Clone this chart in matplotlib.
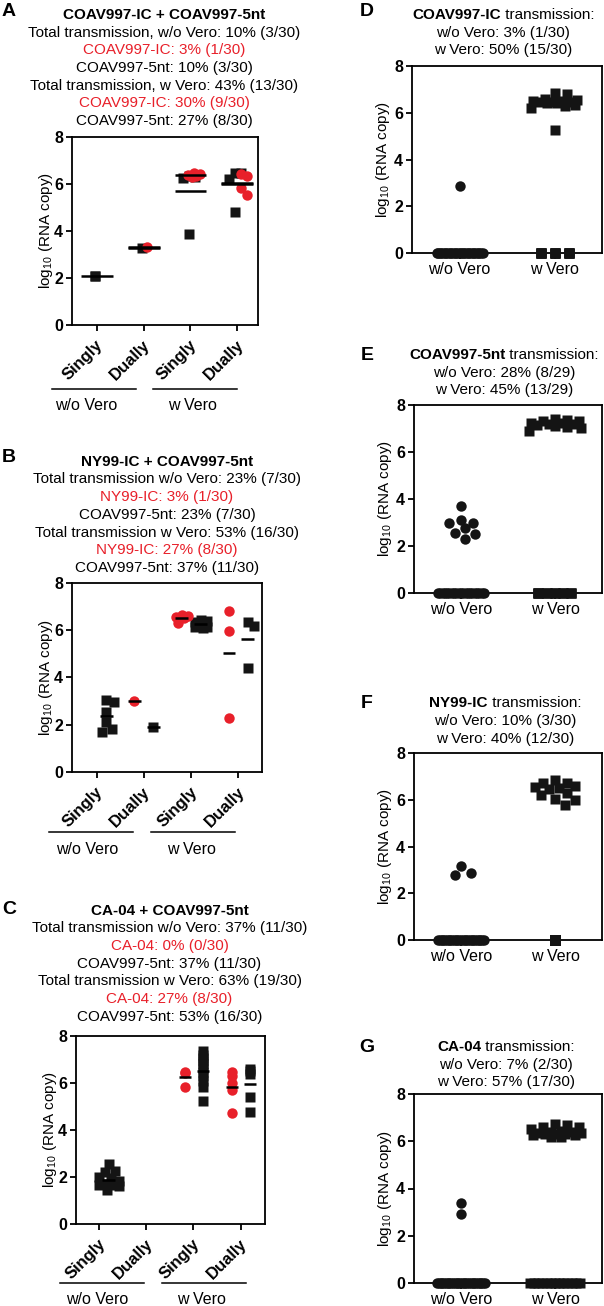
import numpy as np
import matplotlib
matplotlib.use("Agg")
import matplotlib.pyplot as plt
from matplotlib.lines import Line2D
from matplotlib.transforms import ScaledTranslation

plt.rcParams["font.family"] = ["Liberation Sans", "DejaVu Sans"]
plt.rcParams["mathtext.fontset"] = "custom"
plt.rcParams["mathtext.rm"] = "Liberation Sans"

# ---------------- data ----------------
LEFT_TICKS = ["Singly", "Dually", "Singly", "Dually"]
RIGHT_TICKS = ["w/o Vero", "w Vero"]
GROUPS = ["w/o Vero", "w Vero"]

# panel A: COAV997-IC (red) + COAV997-5nt (black)
A_RED = [[], [3.33], [6.45, 6.42, 6.38, 6.33, 6.3], [6.42, 6.35, 5.82, 5.55]]
A_BLACK = [[2.08, 2.08], [3.27], [6.35, 6.3, 6.25, 3.88], [6.47, 6.45, 6.2, 4.82]]
A_RED_MEAN = [None, 3.3, 6.38, 6.03]
A_BLACK_MEAN = [2.08, 3.27, 5.7, 5.98]

# panel B: NY99-IC (red) + COAV997-5nt (black)
B_RED = [[], [3.0], [6.65, 6.62, 6.58, 6.5, 6.3], [6.8, 5.95, 2.27]]
B_BLACK = [[3.05, 2.98, 2.55, 2.12, 1.8, 1.7], [1.92],
           [6.45, 6.4, 6.35, 6.3, 6.2, 6.15, 6.12, 6.1], [6.33, 6.16, 4.39]]
B_RED_MEAN = [None, 3.0, 6.53, 5.03]
B_BLACK_MEAN = [2.37, 1.92, 6.26, 5.63]

# panel C: CA-04 (red) + COAV997-5nt (black)
C_RED = [[], [], [6.48, 6.42, 5.82], [6.48, 6.3, 6.0, 5.72, 4.71]]
C_BLACK = [[2.55, 2.25, 2.2, 2.0, 1.95, 1.85, 1.7, 1.65, 1.65, 1.6, 1.45], [],
           [7.35, 7.2, 7.05, 6.95, 6.8, 6.65, 6.45, 6.3, 6.1, 5.85, 5.25],
           [6.6, 6.5, 6.4, 5.42, 4.78]]
C_RED_MEAN = [None, None, 6.24, 5.84]
C_BLACK_MEAN = [1.87, None, 6.52, 5.94]

A_TITLE = ["COAV997-IC + COAV997-5nt",
           "Total transmission, w/o Vero: 10% (3/30)",
           "COAV997-IC: 3% (1/30)",
           "COAV997-5nt: 10% (3/30)",
           "Total transmission, w Vero: 43% (13/30)",
           "COAV997-IC: 30% (9/30)",
           "COAV997-5nt: 27% (8/30)"]
B_TITLE = ["NY99-IC + COAV997-5nt",
           "Total transmission w/o Vero: 23% (7/30)",
           "NY99-IC: 3% (1/30)",
           "COAV997-5nt: 23% (7/30)",
           "Total transmission w Vero: 53% (16/30)",
           "NY99-IC: 27% (8/30)",
           "COAV997-5nt: 37% (11/30)"]
C_TITLE = ["CA-04 + COAV997-5nt",
           "Total transmission w/o Vero: 37% (11/30)",
           "CA-04: 0% (0/30)",
           "COAV997-5nt: 37% (11/30)",
           "Total transmission w Vero: 63% (19/30)",
           "CA-04: 27% (8/30)",
           "COAV997-5nt: 53% (16/30)"]

# single-virus panels: positive values, and number of zero (negative) mosquitoes
D_WO, D_WO_ZERO = [2.85], 29
D_W = [6.85, 6.8, 6.6, 6.55, 6.5, 6.5, 6.45, 6.45, 6.45, 6.4, 6.4, 6.35, 6.3, 6.2, 5.25]
D_W_ZERO = 15
E_WO, E_WO_ZERO = [3.72, 3.1, 3.0, 3.0, 2.78, 2.55, 2.52, 2.28], 21
E_W = [7.4, 7.35, 7.3, 7.3, 7.25, 7.25, 7.2, 7.2, 7.15, 7.1, 7.05, 7.0, 6.9]
E_W_ZERO = 16
F_WO, F_WO_ZERO = [3.17, 2.87, 2.78], 27
F_W = [6.83, 6.72, 6.72, 6.6, 6.55, 6.5, 6.45, 6.3, 6.2, 6.05, 6.0, 5.77]
F_W_ZERO = 18
G_WO, G_WO_ZERO = [3.4, 2.9], 28
G_W = [6.75, 6.7, 6.6, 6.6, 6.5, 6.45, 6.4, 6.4, 6.35, 6.35, 6.3, 6.3, 6.3, 6.25, 6.25, 6.2, 6.2]
G_W_ZERO = 13

D_TITLE = ["COAV997-IC", " transmission:", "w/o Vero: 3% (1/30)", "w Vero: 50% (15/30)"]
E_TITLE = ["COAV997-5nt", " transmission:", "w/o Vero: 28% (8/29)", "w Vero: 45% (13/29)"]
F_TITLE = ["NY99-IC", " transmission:", "w/o Vero: 10% (3/30)", "w Vero: 40% (12/30)"]
G_TITLE = ["CA-04", " transmission:", "w/o Vero: 7% (2/30)", "w Vero: 57% (17/30)"]

# ---------------- figure helpers ----------------
W, H = 604, 1306
RED = "#e8202a"
BLACK = "#141414"
FS = 11
LINE_STEP = 17.7

fig = plt.figure(figsize=(W / 100, H / 100), dpi=100)


def fx(x):
    return x / W


def fy(y):
    return 1 - y / H


def make_axes(rect, xlim, label_gap):
    l, t, r, b = rect
    ax = fig.add_axes([l / W, 1 - b / H, (r - l) / W, (b - t) / H])
    ax.set_xlim(*xlim)
    ax.set_ylim(0, 8)
    ax.set_yticks([0, 2, 4, 6, 8])
    for sp in ax.spines.values():
        sp.set_linewidth(1.3)
    ax.tick_params(direction="out", length=4.5, width=1.3, labelsize=11.5, pad=2)
    for lab in ax.get_yticklabels():
        lab.set_fontweight("bold")
    ax.set_ylabel(r"$\mathregular{log_{10}}$ (RNA copy)", fontsize=11)
    ax.yaxis.set_label_coords(-label_gap / (r - l), 0.5)
    return ax


def swarm(vals, d, wmax, ypx=23.5):
    # simple beeswarm: offsets in pixels, kept within +-wmax
    cands = [0.0]
    for s in np.arange(2.0, wmax + 0.01, 2.0):
        cands += [s, -s]
    placed, offs = [], []
    for v in vals:
        y = v * ypx
        best, best_d = 0.0, -1.0
        for c in cands:
            dist = min([np.hypot(c - px, y - py) for px, py in placed] + [1e9])
            if dist >= 0.9 * d:
                best = c
                break
            if dist > best_d:
                best, best_d = c, dist
        placed.append((best, y))
        offs.append(best)
    return np.array(offs)


def px_per_unit(ax):
    x0, x1 = ax.get_xlim()
    return ax.get_position().width * W / (x1 - x0)


def draw_left(ax, red, black, red_mean, black_mean, offs, line_offs, hw, jit):
    xpx = px_per_unit(ax)
    for i in range(4):
        pos = i + 1
        if black[i]:
            dx = swarm(black[i], 10, jit[i]) / xpx
            ax.plot(pos + offs[1] + dx, black[i], "s", ms=7, color=BLACK, mec="none",
                    clip_on=False, zorder=3)
        if red[i]:
            dx = swarm(red[i], 10, jit[i]) / xpx
            ax.plot(pos + offs[0] + dx, red[i], "o", ms=7.5, color=RED, mec="none",
                    clip_on=False, zorder=4)
        for m, lo in ((red_mean[i], line_offs[0]), (black_mean[i], line_offs[1])):
            if m is not None:
                ax.hlines(m, pos + lo - hw, pos + lo + hw, color="k", lw=1.8, zorder=5)
    ax.set_xticks([1, 2, 3, 4])
    ax.set_xticklabels(LEFT_TICKS, rotation=45, ha="right", va="center",
                       rotation_mode="anchor", fontweight="bold", fontsize=12)
    ax.tick_params(axis="x", pad=8)
    shift = ScaledTranslation(4 / 100, 0, fig.dpi_scale_trans)
    for lab in ax.get_xticklabels():
        lab.set_transform(lab.get_transform() + shift)


def draw_right(ax, wo, wo_zero, w, w_zero, zero_lay, jit):
    xpx = px_per_unit(ax)
    for pos, vals, nz, marker, ms, (zw, slots), jw in (
            (0, wo, wo_zero, "o", 7.5, zero_lay[0], jit[0]),
            (1, w, w_zero, "s", 7, zero_lay[1], jit[1])):
        slot_x = np.linspace(-zw / 2, zw / 2, slots) / xpx
        zx = pos + slot_x[np.arange(nz) % slots]
        ax.plot(zx, np.zeros(nz), marker, ms=ms, color=BLACK, mec="none",
                clip_on=False, zorder=3)
        dx = swarm(vals, 12, jw) / xpx
        ax.plot(pos + dx, vals, marker, ms=ms, color=BLACK, mec="none",
                clip_on=False, zorder=3)
    ax.set_xticks([0, 1])
    ax.set_xticklabels(RIGHT_TICKS, fontsize=11.5)


def left_title(lines, cx, y0):
    for k, s in enumerate(lines):
        col = RED if k in (2, 5) else "k"
        fig.text(fx(cx), fy(y0 + k * LINE_STEP), s, ha="center", va="center",
                 fontsize=FS, color=col, fontweight="bold" if k == 0 else "normal")


def right_title(lines, cx, y0):
    r = fig.canvas.get_renderer()
    t1 = fig.text(0, fy(y0), lines[0], ha="left", va="center", fontsize=FS, fontweight="bold")
    t2 = fig.text(0, fy(y0), lines[1], ha="left", va="center", fontsize=FS)
    w1 = t1.get_window_extent(r).width
    w2 = t2.get_window_extent(r).width
    x0 = cx - (w1 + w2) / 2
    t1.set_x(fx(x0))
    t2.set_x(fx(x0 + w1))
    for k, s in enumerate(lines[2:]):
        fig.text(fx(cx), fy(y0 + (k + 1) * LINE_STEP), s, ha="center", va="center", fontsize=FS)


def groups(line_y, segs, label_x):
    for x0, x1 in segs:
        fig.add_artist(Line2D([fx(x0), fx(x1)], [fy(line_y), fy(line_y)],
                              transform=fig.transFigure, color="k", lw=1.1))
    for x, s in zip(label_x, GROUPS):
        fig.text(fx(x), fy(line_y + 17), s, ha="center", va="center", fontsize=11.5)


def letter(x, y, s):
    fig.text(fx(x), fy(y), s, ha="center", va="center", fontsize=14, fontweight="bold")


# ---------------- left column ----------------
ax_a = make_axes((72, 137, 258, 325), (0.473, 4.44), 17)
draw_left(ax_a, A_RED, A_BLACK, A_RED_MEAN, A_BLACK_MEAN, (0.08, -0.04), (0, 0), 0.34,
          [0, 0, 6, 6])
left_title(A_TITLE, 164, 15)
groups(388.5, [(51.7, 135.5), (152.7, 237.3)], [86, 192.5])
letter(9, 11, "A")

ax_b = make_axes((72, 583, 262, 772), (0.477, 4.5), 17)
draw_left(ax_b, B_RED, B_BLACK, B_RED_MEAN, B_BLACK_MEAN, (-0.2, 0.2), (-0.2, 0.2), 0.135,
          [8, 0, 7, 6])
left_title(B_TITLE, 167, 461.7)
groups(832, [(49, 133), (151, 235)], [87, 191])
letter(9, 458, "B")

ax_c = make_axes((76, 1036, 265, 1224), (0.505, 4.52), 17)
draw_left(ax_c, C_RED, C_BLACK, C_RED_MEAN, C_BLACK_MEAN, (-0.18, 0.2), (-0.18, 0.2), 0.135,
          [10, 0, 0, 0])
left_title(C_TITLE, 169.5, 910.7)
groups(1283, [(60, 144), (162, 246)], [96.7, 201.7])
letter(9, 910, "C")

# ---------------- right column ----------------
ax_d = make_axes((412, 66, 602, 253), (-0.5, 1.5), 20)
draw_right(ax_d, D_WO, D_WO_ZERO, D_W, D_W_ZERO, ((46, 29), (28, 3)), (15, 25))
right_title(D_TITLE, 503, 15)
letter(367, 12, "D")

ax_e = make_axes((414, 405, 602, 593), (-0.5, 1.5), 20)
draw_right(ax_e, E_WO, E_WO_ZERO, E_W, E_W_ZERO, ((46, 21), (33, 5)), (15, 26))
right_title(E_TITLE, 504, 355)
letter(367, 355, "E")

ax_f = make_axes((414, 753, 602, 940), (-0.5, 1.5), 20)
draw_right(ax_f, F_WO, F_WO_ZERO, F_W, F_W_ZERO, ((46, 27), (0, 1)), (15, 21))
right_title(F_TITLE, 505, 703.3)
letter(367, 703, "F")

ax_g = make_axes((414, 1094, 602, 1283), (-0.5, 1.5), 20)
draw_right(ax_g, G_WO, G_WO_ZERO, G_W, G_W_ZERO, ((48, 28), (50, 13)), (15, 26))
right_title(G_TITLE, 506, 1047)
letter(367, 1048, "G")

fig.savefig("out.png", dpi=100)
